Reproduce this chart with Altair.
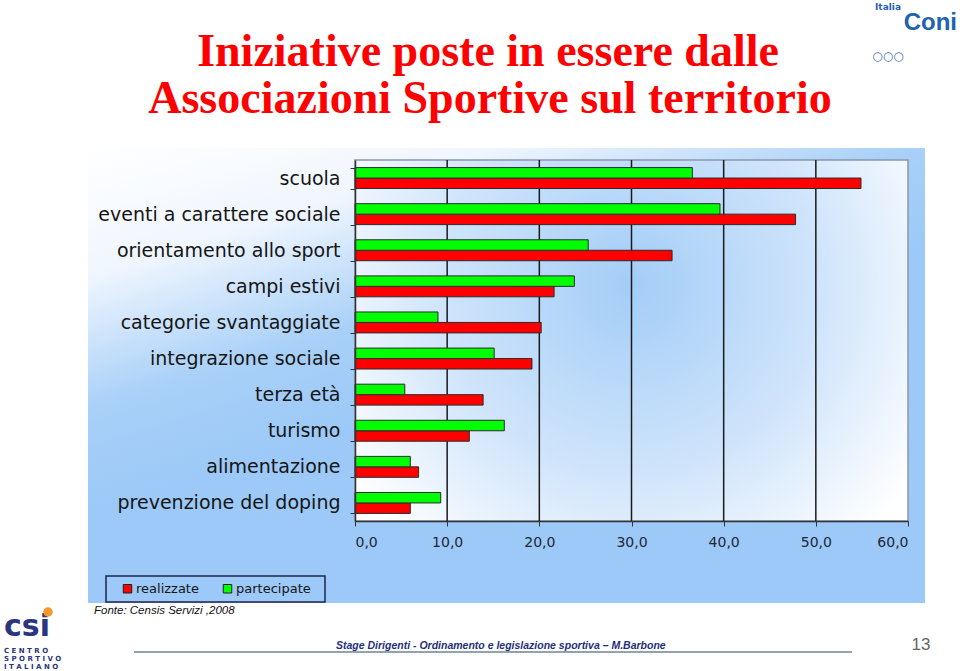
import altair as alt
import pandas as pd

# ---------------- data ----------------
categories = [
    "scuola",
    "eventi a carattere sociale",
    "orientamento allo sport",
    "campi estivi",
    "categorie svantaggiate",
    "integrazione  sociale",
    "terza età",
    "turismo",
    "alimentazione",
    "prevenzione del doping",
]
realizzate = [54.9, 47.8, 34.4, 21.6, 20.2, 19.2, 13.9, 12.4, 6.9, 6.0]
partecipate = [36.6, 39.6, 25.3, 23.8, 9.0, 15.1, 5.4, 16.2, 6.0, 9.3]
series = ["realizzate", "partecipate"]
series_colors = ["#FF0000", "#00FF00"]
x_ticks = [0, 10, 20, 30, 40, 50, 60]
grid_values = [10, 20, 30, 40, 50]

title_lines = ["Iniziative poste in essere dalle", "Associazioni Sportive sul territorio"]
source_text = "Fonte: Censis Servizi ,2008"
footer_text = "Stage Dirigenti - Ordinamento e legislazione sportiva – M.Barbone"
page_text = "13"

rows = []
for c, r, p in zip(categories, realizzate, partecipate):
    rows.append({"categoria": c, "serie": "realizzate", "valore": r})
    rows.append({"categoria": c, "serie": "partecipate", "valore": p})
df = pd.DataFrame(rows)
grid_df = pd.DataFrame({"v": grid_values})
one = pd.DataFrame({"a": [0]})

W, H = 553, 361
OX, OY = 355, 160  # plot origin in page pixels

def px(x):
    return alt.value(x - OX)

def py(y):
    return alt.value(y - OY)

# ---------------- background panel ----------------
panel = alt.Chart(one).mark_rect(
    fill=alt.LinearGradient(
        gradient="linear",
        stops=[
            alt.GradientStop(color="#FFFFFF", offset=0),
            alt.GradientStop(color="#F0F6FE", offset=0.35),
            alt.GradientStop(color="#A8D0F8", offset=0.72),
            alt.GradientStop(color="#9CC9F7", offset=1),
        ],
        x1=0, y1=0, x2=0.35, y2=0.6,
    )
).encode(x=px(88), x2=px(925), y=py(148), y2=py(603))

plot_bg = alt.Chart(one).mark_rect(
    fill=alt.RadialGradient(
        gradient="radial",
        stops=[
            alt.GradientStop(color="#A3CDF7", offset=0),
            alt.GradientStop(color="#CFE4FB", offset=0.55),
            alt.GradientStop(color="#FFFFFF", offset=1),
        ],
        x1=0.5, y1=0.4, r1=0, x2=0.5, y2=0.4, r2=0.62,
    ),
    stroke="#8C97A6",
    strokeWidth=1.5,
).encode(x=alt.value(0), x2=alt.value(W), y=alt.value(0), y2=alt.value(H))

grid = alt.Chart(grid_df).mark_rule(color="#1A1A1A", strokeWidth=1.5).encode(
    x=alt.X("v:Q", scale=alt.Scale(domain=[0, 60], nice=False)),
    y=alt.value(0),
    y2=alt.value(H),
)

bars = alt.Chart(df).mark_bar(stroke="#2A2A2A", strokeWidth=1).encode(
    y=alt.Y(
        "categoria:N",
        sort=categories,
        scale=alt.Scale(paddingInner=0.42, paddingOuter=0.21),
        axis=alt.Axis(
            title=None,
            tickBand="extent",
            tickSize=5,
            tickColor="#333333",
            domainColor="#333333",
            domainWidth=1.5,
            labelFont="DejaVu Sans",
            labelFontSize=19,
            labelColor="#151515",
            labelPadding=10,
            labelLimit=400,
            zindex=1,
        ),
    ),
    yOffset=alt.YOffset("serie:N", sort=["partecipate", "realizzate"]),
    x=alt.X(
        "valore:Q",
        scale=alt.Scale(domain=[0, 60], nice=False),
        axis=alt.Axis(
            title=None,
            values=x_ticks,
            grid=False,
            tickSize=5,
            tickColor="#333333",
            domainColor="#333333",
            domainWidth=1.5,
            labelFont="DejaVu Sans",
            labelFontSize=14,
            labelColor="#1C2838",
            labelPadding=9,
            labelExpr="replace(format(datum.value, '.1f'), '.', ',')",
            zindex=1,
        ),
    ),
    color=alt.Color(
        "serie:N",
        scale=alt.Scale(domain=series, range=series_colors),
        legend=alt.Legend(
            title=None,
            orient="none",
            direction="horizontal",
            legendX=121 - OX,
            legendY=582 - OY,
            symbolType="square",
            symbolSize=72,
            symbolStrokeColor="#222222",
            symbolStrokeWidth=1,
            symbolOpacity=1,
            labelFont="DejaVu Sans",
            labelFontSize=13,
            labelColor="#151515",
            labelOffset=2,
            columnPadding=22,
            padding=0,
        ),
    ),
)

legend_box = alt.Chart(one).mark_rect(
    fill=None, filled=False, stroke="#1A2650", strokeWidth=1.5
).encode(x=px(106), x2=px(325), y=py(576), y2=py(602))

# ---------------- texts ----------------
title1 = alt.Chart(one).mark_text(
    text=title_lines[0], font="Liberation Serif", fontSize=46, fontWeight="bold",
    color="#FF0000", align="center", baseline="alphabetic",
).encode(x=px(488), y=py(66))
title2 = alt.Chart(one).mark_text(
    text=title_lines[1], font="Liberation Serif", fontSize=46, fontWeight="bold",
    color="#FF0000", align="center", baseline="alphabetic",
).encode(x=px(490), y=py(113))

source = alt.Chart(one).mark_text(
    text=source_text, font="Liberation Sans", fontSize=11.5, fontStyle="italic",
    color="#111111", align="left", baseline="alphabetic",
).encode(x=px(94), y=py(614))

footer = alt.Chart(one).mark_text(
    text=footer_text, font="Liberation Sans", fontSize=10.5, fontStyle="italic",
    fontWeight="bold", color="#1F2F7A", align="left", baseline="alphabetic",
).encode(x=px(336), y=py(649))

footer_line = alt.Chart(one).mark_rule(color="#6F8397", strokeWidth=1.5).encode(
    x=px(134), x2=px(852), y=py(652)
)

page = alt.Chart(one).mark_text(
    text=page_text, font="Liberation Sans", fontSize=17, color="#666666",
    align="center", baseline="alphabetic",
).encode(x=px(921), y=py(650))

# logos (approximated with text)
coni = alt.Chart(one).mark_text(
    text="Coni", font="Liberation Sans", fontSize=24, fontWeight="bold",
    color="#1E63AE", align="right", baseline="alphabetic",
).encode(x=px(957), y=py(30))
italia = alt.Chart(one).mark_text(
    text="Italia", font="DejaVu Sans", fontSize=9, fontWeight="bold",
    color="#1E63AE", align="center", baseline="alphabetic",
).encode(x=px(888), y=py(10))
rings = alt.Chart(one).mark_text(
    text="○○○", font="DejaVu Sans", fontSize=12,
    color="#3A6FB0", align="center", baseline="alphabetic",
).encode(x=px(888), y=py(60))

csi_lines = ["C E N T R O", "S P O R T I V O", "I T A L I A N O"]
csi_layers = []
for i, t in enumerate(csi_lines):
    csi_layers.append(
        alt.Chart(one).mark_text(
            text=t, font="DejaVu Sans", fontSize=7, fontWeight="bold",
            color="#2A3580", align="left", baseline="alphabetic",
        ).encode(x=px(4), y=py(653 + i * 8))
    )
csi_mark = alt.Chart(one).mark_text(
    text="csi", font="DejaVu Sans", fontSize=30, fontWeight="bold",
    color="#2A3580", align="left", baseline="alphabetic",
).encode(x=px(4), y=py(636))
csi_ball = alt.Chart(one).mark_point(
    filled=True, color="#F39A2A", size=90, opacity=1
).encode(x=px(48), y=py(612))

chart = alt.layer(
    panel, plot_bg, grid, bars, legend_box,
    title1, title2, source, footer_line, footer, page,
    coni, italia, rings, csi_mark, csi_ball, *csi_layers,
).properties(
    width=W,
    height=H,
    background="#FFFFFF",
    autosize=alt.AutoSizeParams(type="none"),
    padding={"left": OX, "top": OY, "right": 960 - OX - W, "bottom": 671 - OY - H},
).configure_view(stroke=None)

chart.save("out.html", embed_options={"renderer": "svg", "actions": False})
